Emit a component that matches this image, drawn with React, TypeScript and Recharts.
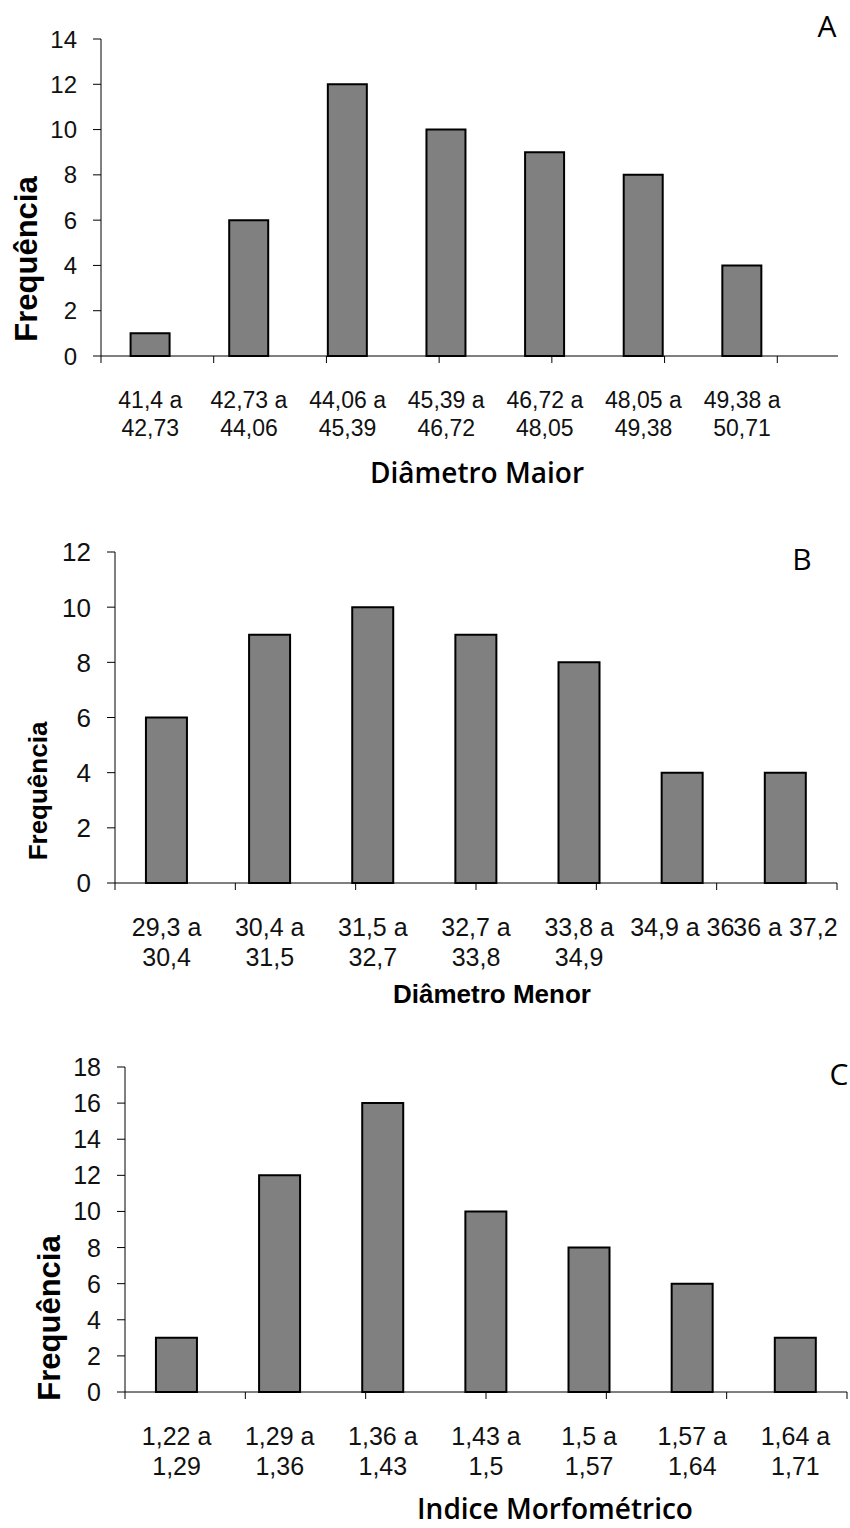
import React from "react";
import { BarChart, Bar, XAxis, YAxis } from "recharts";

// A - Diâmetro Maior (last slot is empty in the original figure)
const maiorLabels = ["41,4 a\n42,73", "42,73 a\n44,06", "44,06 a\n45,39", "45,39 a\n46,72", "46,72 a\n48,05", "48,05 a\n49,38", "49,38 a\n50,71", ""];
const maiorFreq = [1, 6, 12, 10, 9, 8, 4, null];

// B - Diâmetro Menor
const menorLabels = ["29,3 a\n30,4", "30,4 a\n31,5", "31,5 a\n32,7", "32,7 a\n33,8", "33,8 a\n34,9", "34,9 a 36", "36 a 37,2"];
const menorFreq = [6, 9, 10, 9, 8, 4, 4];

// C - Indice Morfométrico
const indiceLabels = ["1,22 a\n1,29", "1,29 a\n1,36", "1,36 a\n1,43", "1,43 a\n1,5", "1,5 a\n1,57", "1,57 a\n1,64", "1,64 a\n1,71"];
const indiceFreq = [3, 12, 16, 10, 8, 6, 3];

const SANS = "'Liberation Sans', Arial, sans-serif";
const OPEN = "'Open Sans', sans-serif";

function CategoryTick({ x, y, payload, fontSize, lines }: any) {
  const parts = String(payload.value ?? "").split("\n");
  return (
    <text x={x} y={y} textAnchor="middle" fontSize={fontSize} fontFamily={SANS} fill="#111">
      {parts.map((p, i) => (
        <tspan key={i} x={x} dy={i === 0 ? lines[0] : lines[1] - lines[0]}>{p}</tspan>
      ))}
    </text>
  );
}

function ValueTick({ x, y, payload, fontSize }: any) {
  return (
    <text x={x} y={y} dy="0.36em" textAnchor="end" fontSize={fontSize} fontFamily={SANS} fill="#111">
      {payload.value}
    </text>
  );
}

function HistPanel(props: any) {
  const {
    labels, values, yMax, top, width, height, clipWidth,
    plotLeft, plotTop, plotBottom, plotRight,
    tickFont, catFont, lines, yTitle, xTitle, letter
  } = props;

  const data = labels.map((label: string, i: number) => ({ label, freq: values[i] }));
  const yTicks: number[] = [];
  for (let v = 0; v <= yMax; v += 2) yTicks.push(v);
  // tick marks sit on the class boundaries, not the bar centres
  const bounds = labels.map((_: string, i: number) => i).concat(labels.length);
  const catHeight = height - plotBottom - 1;

  return (
    <div style={{ position: "absolute", left: 0, top, width: clipWidth ?? width, height, overflow: "hidden" }}>
      <BarChart
        width={width}
        height={height}
        data={data}
        margin={{ top: plotTop, right: width - plotRight, bottom: 0, left: 0 }}
        barCategoryGap="30%"
      >
        <XAxis
          xAxisId={0}
          type="number"
          domain={[0, labels.length]}
          allowDataOverflow
          ticks={bounds}
          interval={0}
          height={1}
          tickSize={7}
          tickFormatter={() => ""}
          stroke="#000"
        />
        <XAxis
          xAxisId="cat"
          dataKey="label"
          interval={0}
          height={catHeight}
          axisLine={false}
          tickLine={false}
          tickSize={0}
          tick={<CategoryTick fontSize={catFont} lines={lines} />}
        />
        <YAxis
          domain={[0, yMax]}
          ticks={yTicks}
          interval={0}
          width={plotLeft}
          tickSize={8}
          tickMargin={16}
          stroke="#000"
          tick={<ValueTick fontSize={tickFont} />}
        />
        <Bar xAxisId="cat" dataKey="freq" fill="#808080" stroke="#000" strokeWidth={2} isAnimationActive={false} />

        <text
          x={yTitle.x}
          y={yTitle.y}
          transform={`rotate(-90, ${yTitle.x}, ${yTitle.y})`}
          textAnchor="middle"
          fontSize={yTitle.size}
          fontWeight="bold"
          fontFamily={SANS}
          fill="#000"
        >
          Frequência
        </text>
        <text
          x={xTitle.x}
          y={xTitle.y}
          textAnchor="middle"
          fontSize={xTitle.size}
          fontWeight={xTitle.weight}
          fontFamily={xTitle.family}
          fill="#000"
        >
          {xTitle.text}
        </text>
        <text x={letter.x} y={letter.y} textAnchor="middle" fontSize={30} fontFamily={OPEN} fill="#000">
          {letter.text}
        </text>
      </BarChart>
    </div>
  );
}

export default function App() {
  return (
    <div style={{ position: "absolute", left: 0, top: 0, width: 850, height: 1528, background: "#fff" }}>
      <HistPanel
        labels={maiorLabels}
        values={maiorFreq}
        yMax={14}
        top={0}
        width={900}
        height={500}
        clipWidth={838}
        plotLeft={101}
        plotTop={39}
        plotBottom={356}
        plotRight={890}
        tickFont={24}
        catFont={23}
        lines={[49, 77]}
        yTitle={{ x: 37, y: 259, size: 31 }}
        xTitle={{ x: 477, y: 483, size: 28, weight: 600, family: OPEN, text: "Diâmetro Maior" }}
        letter={{ x: 827, y: 37, text: "A" }}
      />
      <HistPanel
        labels={menorLabels}
        values={menorFreq}
        yMax={12}
        top={500}
        width={850}
        height={510}
        plotLeft={115}
        plotTop={52}
        plotBottom={383}
        plotRight={837}
        tickFont={26}
        catFont={25}
        lines={[50, 80]}
        yTitle={{ x: 47, y: 291, size: 26 }}
        xTitle={{ x: 492, y: 503, size: 26, weight: "bold", family: SANS, text: "Diâmetro Menor" }}
        letter={{ x: 802, y: 70, text: "B" }}
      />
      <HistPanel
        labels={indiceLabels}
        values={indiceFreq}
        yMax={18}
        top={1000}
        width={850}
        height={528}
        plotLeft={125}
        plotTop={67}
        plotBottom={392}
        plotRight={847}
        tickFont={25}
        catFont={25}
        lines={[50, 80]}
        yTitle={{ x: 60, y: 318, size: 31 }}
        xTitle={{ x: 555, y: 519, size: 28, weight: 600, family: OPEN, text: "Indice Morfométrico" }}
        letter={{ x: 839, y: 85, text: "C" }}
      />
    </div>
  );
}
